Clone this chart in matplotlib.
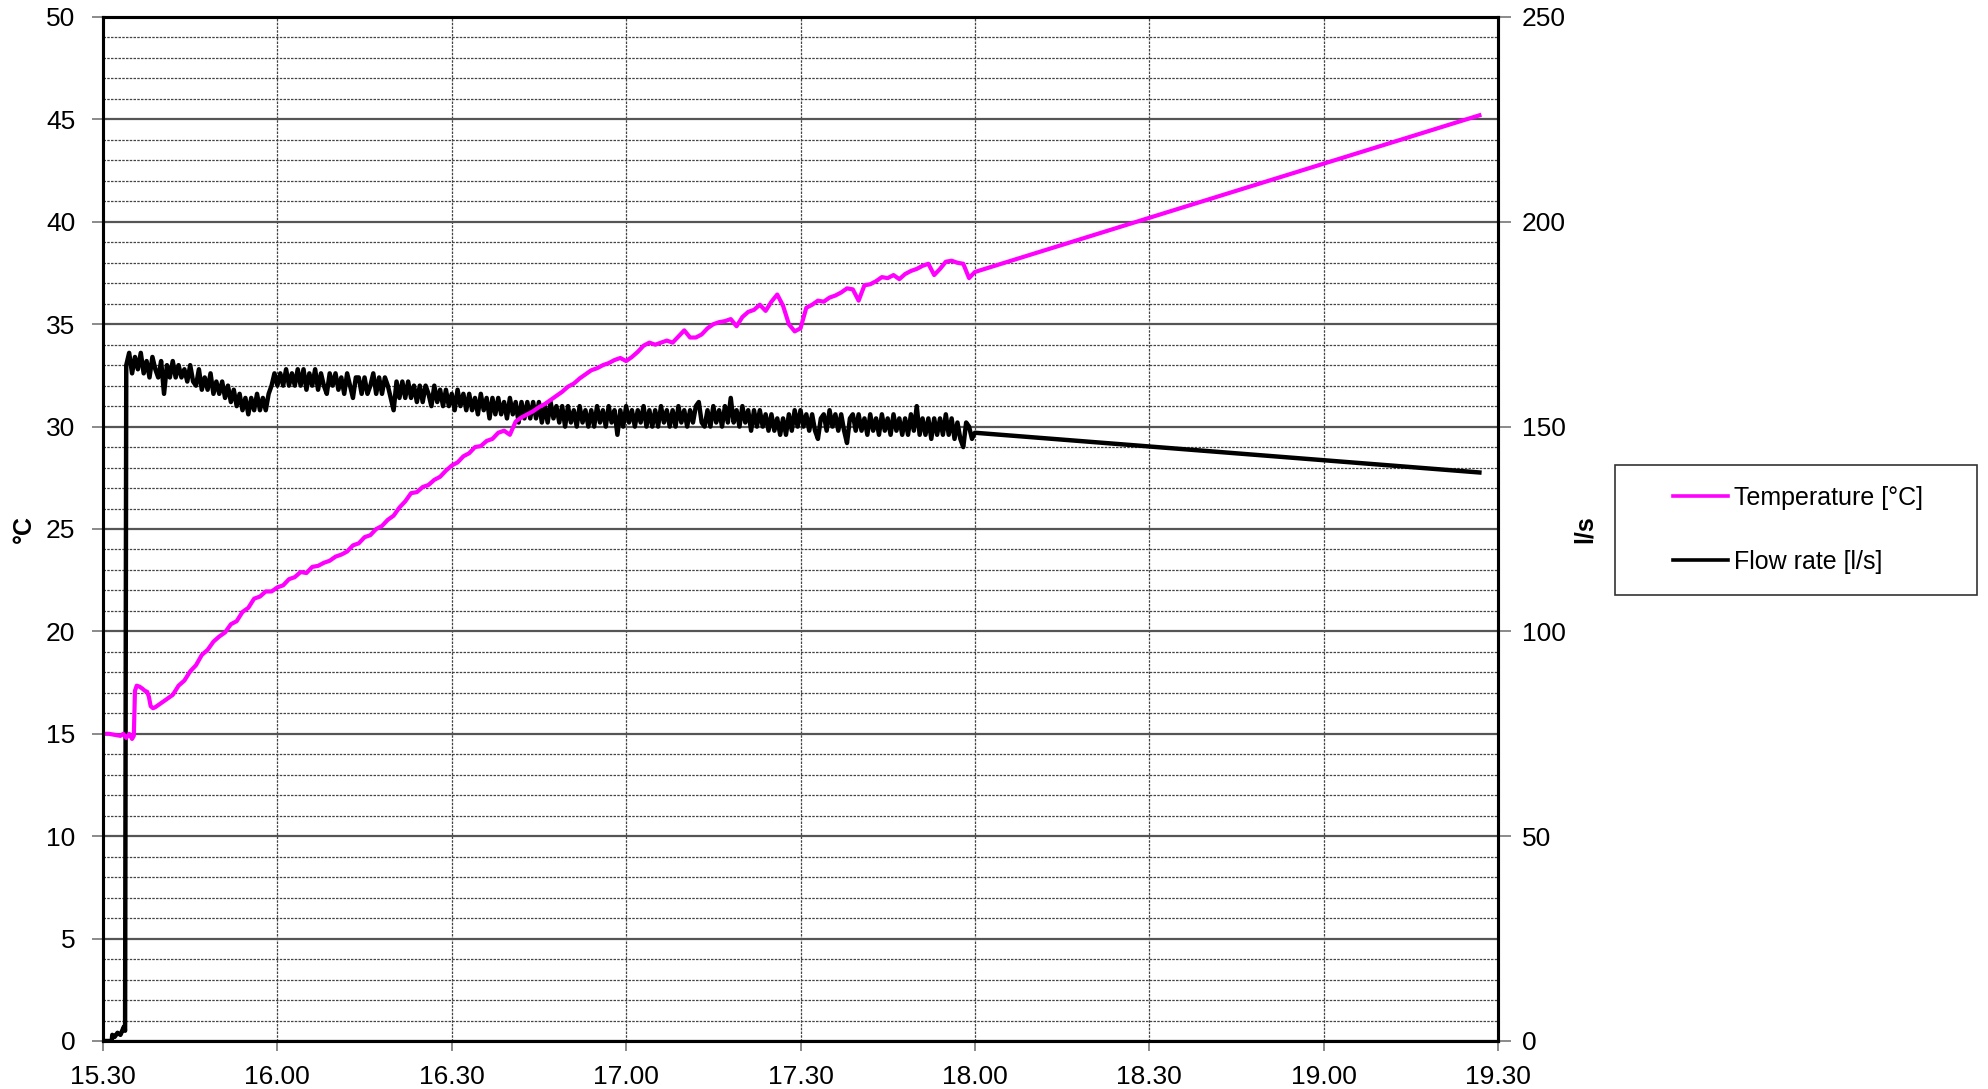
import numpy as np
import matplotlib

matplotlib.use("Agg")
import matplotlib.pyplot as plt
from matplotlib.lines import Line2D
from matplotlib.patches import Rectangle

# time axis: minutes after 15.30
X_TICKS = [0, 30, 60, 90, 120, 150, 180, 210, 240]
X_TICK_LABELS = ["15.30", "16.00", "16.30", "17.00", "17.30", "18.00", "18.30", "19.00", "19.30"]

# temperature [°C], start-up part read at irregular times
TEMP_START_TIME = [0, 1, 2, 3, 3.5, 4, 4.5, 5, 5.3, 5.5, 5.8, 6.3, 6.8, 7.2, 7.6, 7.9, 8.2, 8.6, 9.0, 9.5]
TEMP_START = [15.0, 15.0, 14.95, 14.9, 15.0, 14.8, 15.0, 14.75, 14.9, 17.1, 17.35, 17.3, 17.2,
              17.1, 17.05, 16.8, 16.35, 16.25, 16.3, 16.4]
# temperature read once a minute from 10 to 150 min
TEMP_STEP_START = 10
TEMP_MINUTE = [
    16.5, 16.7, 16.9, 17.35, 17.6, 18.05, 18.35, 18.85, 19.1, 19.5,
    19.75, 19.95, 20.35, 20.5, 20.95, 21.15, 21.6, 21.7, 21.95, 21.95,
    22.15, 22.25, 22.55, 22.65, 22.9, 22.85, 23.15, 23.2, 23.35, 23.45,
    23.65, 23.75, 23.9, 24.2, 24.3, 24.6, 24.7, 25.0, 25.15, 25.45,
    25.65, 26.05, 26.35, 26.75, 26.8, 27.05, 27.15, 27.4, 27.55, 27.85,
    28.1, 28.25, 28.55, 28.7, 29.0, 29.05, 29.3, 29.4, 29.7, 29.8,
    29.6, 30.25, 30.45, 30.6, 30.75, 30.95, 31.1, 31.3, 31.5, 31.7,
    31.95, 32.1, 32.35, 32.55, 32.75, 32.85, 33.0, 33.1, 33.25, 33.35,
    33.2, 33.4, 33.65, 33.95, 34.1, 34.0, 34.1, 34.2, 34.1, 34.4,
    34.7, 34.35, 34.35, 34.5, 34.8, 35.0, 35.1, 35.15, 35.25, 34.9,
    35.35, 35.6, 35.7, 35.95, 35.65, 36.1, 36.45, 35.9, 35.0, 34.65,
    34.8, 35.8, 35.95, 36.15, 36.1, 36.3, 36.4, 36.55, 36.75, 36.7,
    36.15, 36.9, 36.95, 37.1, 37.3, 37.25, 37.4, 37.2, 37.45, 37.6,
    37.7, 37.85, 37.95, 37.4, 37.7, 38.05, 38.1, 38.0, 37.95, 37.25, 37.55,
]
TEMP_END_TIME = 236.8
TEMP_END = 45.2

# flow rate [l/s]
FLOW_START_TIME = [0, 1.5, 1.6, 2.0, 2.5, 3.0, 3.3, 3.6, 3.8]
FLOW_START = [0, 0, 1.5, 1.0, 2.0, 1.5, 2.5, 3.5, 2.5]
FLOW_STEP_START = 4.0
FLOW_STEP = 0.5
FLOW_HALF_MINUTE = [
    165, 168, 163, 167, 164, 168, 163, 166, 162, 167, 164, 162, 166, 158, 165, 162, 166, 162, 165, 162,
    164, 161, 165, 161, 160, 164, 159, 162, 159, 163, 158, 161, 158, 161, 157, 160, 156, 159, 155, 158,
    154, 157, 153, 157, 154, 158, 154, 157, 154, 158, 160, 163, 160, 163, 160, 164, 160, 163, 160, 164,
    160, 164, 159, 163, 160, 164, 159, 163, 160, 158, 163, 160, 163, 159, 162, 158, 163, 160, 157, 162,
    162, 158, 162, 158, 160, 163, 158, 162, 158, 162, 160, 157, 154, 161, 157, 161, 157, 161, 157, 160,
    156, 160, 156, 160, 158, 155, 160, 156, 159, 155, 159, 155, 158, 154, 159, 155, 158, 154, 158, 154,
    157, 153, 158, 154, 157, 152, 157, 153, 157, 153, 156, 152, 157, 153, 156, 151, 156, 152, 156, 152,
    156, 152, 156, 151, 155, 151, 156, 152, 155, 151, 155, 150, 155, 151, 154, 150, 155, 151, 154, 150,
    154, 150, 155, 151, 154, 150, 155, 151, 154, 148, 154, 150, 155, 151, 154, 150, 154, 151, 155, 150,
    154, 150, 154, 150, 155, 151, 154, 150, 154, 150, 155, 151, 154, 150, 154, 151, 155, 156, 151, 150,
    154, 150, 155, 151, 154, 150, 155, 151, 157, 151, 154, 150, 155, 151, 154, 149, 154, 150, 154, 150,
    153, 149, 153, 149, 152, 148, 152, 148, 153, 149, 154, 150, 154, 150, 153, 149, 153, 149, 147, 152,
    153, 149, 154, 150, 153, 149, 153, 149, 146, 152, 153, 149, 153, 149, 152, 148, 153, 149, 152, 148,
    153, 149, 152, 148, 153, 149, 152, 148, 152, 148, 153, 149, 155, 148, 152, 148, 152, 147, 152, 148,
    152, 148, 153, 148, 152, 147, 151, 147, 145, 151, 150, 147, 148.5,
]
FLOW_END_TIME = 236.8
FLOW_END = 138.8

temp_time = np.concatenate([
    TEMP_START_TIME,
    TEMP_STEP_START + np.arange(len(TEMP_MINUTE)),
    [TEMP_END_TIME],
])
temp = np.concatenate([TEMP_START, TEMP_MINUTE, [TEMP_END]])

flow_time = np.concatenate([
    FLOW_START_TIME,
    FLOW_STEP_START + FLOW_STEP * np.arange(len(FLOW_HALF_MINUTE)),
    [FLOW_END_TIME],
])
flow = np.concatenate([FLOW_START, FLOW_HALF_MINUTE, [FLOW_END]])

plt.rcParams["font.family"] = ["Liberation Sans", "DejaVu Sans"]

W, H = 1988, 1089
fig = plt.figure(figsize=(W / 100, H / 100), dpi=100)
left, right, top, bottom = 103, 1498, 17, 1041
ax = fig.add_axes([left / W, 1 - bottom / H, (right - left) / W, (bottom - top) / H])
ax2 = ax.twinx()

ax.set_xlim(0, 240)
ax.set_ylim(0, 50)
ax2.set_ylim(0, 250)

ax.set_xticks(X_TICKS, X_TICK_LABELS)
ax.set_yticks(np.arange(0, 51, 5))
ax.set_yticks(np.arange(0, 51, 1), minor=True)
ax2.set_yticks(np.arange(0, 251, 50))

ax.set_axisbelow(True)
ax.grid(True, axis="y", which="minor", color="#444444", linestyle=(0, (2, 1)), linewidth=0.9)
ax.grid(True, axis="y", which="major", color="#555555", linestyle="-", linewidth=1.6)
ax.grid(True, axis="x", which="major", color="#444444", linestyle=(0, (2, 1)), linewidth=0.9)

ax.tick_params(axis="y", which="major", labelsize=19, length=8, width=1.2, color="#777777", pad=12)
ax.tick_params(axis="y", which="minor", length=0)
ax.tick_params(axis="x", labelsize=19, length=7, width=1.2, color="#777777", pad=10)
ax2.tick_params(axis="y", labelsize=19, length=9, width=1.2, color="#777777", pad=8)

for a in (ax, ax2):
    for sp in a.spines.values():
        sp.set_linewidth(2.2)
        sp.set_color("black")

ax.plot(flow_time, flow, color="black", linewidth=3.2, zorder=2, transform=ax2.transData)
ax.plot(temp_time, temp, color="#ff00ff", linewidth=3.0, zorder=3)

ax.set_ylabel("°C", fontsize=18, fontweight="bold")
ax.yaxis.set_label_coords((36 - left) / (right - left), 0.5)
ax2.set_ylabel("l/s", fontsize=18, fontweight="bold")
ax2.yaxis.set_label_coords((1573 - left) / (right - left), 0.5)

# legend box
fig.patches.append(Rectangle((1615 / W, 1 - 595 / H), (1977 - 1615) / W, (595 - 465) / H,
                             transform=fig.transFigure, facecolor="white",
                             edgecolor="#333333", linewidth=1.2))
handles = [
    Line2D([], [], color="#ff00ff", linewidth=2.6),
    Line2D([], [], color="black", linewidth=2.6),
]
fig.legend(handles, ["Temperature [°C]", "Flow rate [l/s]"], loc="center left",
           bbox_to_anchor=(1660 / W, 1 - 530 / H), frameon=False, fontsize=18,
           handlelength=2.2, handletextpad=0.25, labelspacing=1.6, borderpad=0)

fig.savefig("out.png", dpi=100)
